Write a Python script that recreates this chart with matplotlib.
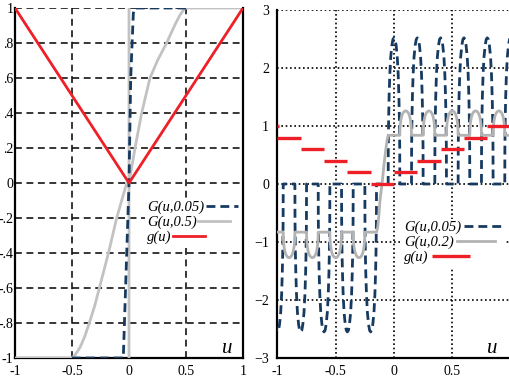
import numpy as np
import matplotlib
matplotlib.use("Agg")
import matplotlib.pyplot as plt

plt.rcParams['font.family'] = ['Liberation Serif', 'DejaVu Serif']
plt.rcParams['font.size'] = 10

# ---------------- data: left panel ----------------
g_u = [-1.0, 0.0, 1.0]
g_v = [1.0, 0.0, 1.0]

G005_u = [-0.5, -0.05, -0.04, 0.0, 0.015, 0.038, 0.05, 0.5]
G005_v = [-1.0, -1.0, -0.8, 0.0, 0.6, 0.97, 1.0, 1.0]

G05_u = [-1.0, -0.5, -0.47, -0.43, -0.39, -0.348, -0.30, -0.26, -0.18, -0.108, -0.064, -0.02,
         np.nan, 0.0, 0.0,
         np.nan, 0.0, 0.053, 0.111, 0.184, 0.25, 0.33, 0.40, 0.447, 0.49, 1.0]
G05_v = [-1.0, -1.0, -0.98, -0.94, -0.88, -0.8, -0.7, -0.6, -0.4, -0.2, -0.1, 0.0,
         np.nan, -1.0, 1.0,
         np.nan, 0.0, 0.2, 0.4, 0.6, 0.7, 0.8, 0.9, 0.96, 1.0, 1.0]

left_yticks = [1, 0.8, 0.6, 0.4, 0.2, 0, -0.2, -0.4, -0.6, -0.8, -1]
left_ylabels = ['1', '.8', '.6', '.4', '.2', '0', '-.2', '-.4', '-.6', '-.8', '-1']
left_xticks = [-1, -0.5, 0, 0.5, 1]
left_xlabels = ['-1', '-0.5', '0', '0.5', '1']

# ---------------- data: right panel ----------------
# quantized g(u): horizontal pieces
step_start = [-1.0, -1.0, -0.8, -0.6, -0.4, -0.2, 0.0, 0.2, 0.4, 0.6, 0.8]
step_end = [-0.99, -0.8, -0.6, -0.4, -0.2, 0.0, 0.2, 0.4, 0.6, 0.8, 1.0]
step_level = [1.0, 0.8, 0.6, 0.4, 0.2, 0.0, 0.2, 0.4, 0.6, 0.8, 1.0]

# arch profile (offset from arch centre, fraction of height)
arch_d = [-0.05, -0.049, -0.046, -0.042, -0.036, -0.028, -0.018, -0.009, 0.0,
          0.009, 0.018, 0.028, 0.036, 0.042, 0.046, 0.049, 0.05]
arch_f = [0.0, 0.25, 0.45, 0.6, 0.75, 0.87, 0.95, 0.99, 1.0,
          0.99, 0.95, 0.87, 0.75, 0.6, 0.45, 0.25, 0.0]

# G(u,0.05): dips / arches
G1_centres = [-1.0, -0.8, -0.6, -0.4, -0.2, 0.0, 0.2, 0.4, 0.6, 0.8, 1.0]
G1_heights = [-2.55, -2.55, -2.55, -2.55, -2.55, 2.52, 2.52, 2.52, 2.52, 2.52, 2.52]

# G(u,0.2): plateau levels with dips / bumps
G2_centres = [-0.9, -0.7, -0.5, -0.3, 0.1, 0.3, 0.5, 0.7, 0.9]
G2_base = [-0.83, -0.83, -0.83, -0.83, 0.84, 0.84, 0.84, 0.84, 0.84]
G2_heights = [-0.44, -0.44, -0.44, -0.44, 0.42, 0.42, 0.42, 0.42, 0.42]
G2_rise_u = [-0.15, -0.14, -0.13, -0.12, -0.10, -0.085, -0.07, -0.06, -0.05]
G2_rise_v = [-0.83, -0.75, -0.55, -0.28, 0.05, 0.35, 0.6, 0.75, 0.84]
G2_ends_u = [-1.0, 1.0]
G2_ends_v = [-0.83, 0.84]

right_yticks = [3, 2, 1, 0, -1, -2, -3]
right_xticks = [-1, -0.5, 0, 0.5]
right_xlabels = ['-1', '-0.5', '0', '0.5']

NAVY = '#173a61'
GRAY_L = '#c2c2c2'
GRAY_R = '#b3b3b3'
RED = '#ee1f26'

fig = plt.figure(figsize=(5.10, 3.81), dpi=100)


def left_align_legend(leg):
    # text first, handle right after the text, rows left aligned
    for col in leg._legend_handle_box.get_children():
        col.align = 'left'


# ================= left panel =================
axL = fig.add_axes([15 / 510, 23 / 381, 228 / 510, 350 / 381])
axL.set_xlim(-1, 1)
axL.set_ylim(-1, 1)
axL.plot(G05_u, G05_v, color=GRAY_L, lw=2.0, zorder=3, label='G(u,0.5)')
axL.plot(G005_u, G005_v, color=NAVY, lw=2.0, ls=(0, (3.2, 1.8)), zorder=4, label='G(u,0.05)')
axL.plot(g_u, g_v, color=RED, lw=2.0, zorder=5, label='g(u)')
axL.set_xticks(left_xticks)
axL.set_xticklabels(left_xlabels)
axL.set_yticks(left_yticks)
axL.set_yticklabels(left_ylabels)
axL.tick_params(length=0, labelsize=10)
axL.tick_params(axis='y', pad=1.0)
axL.tick_params(axis='x', pad=5)
axL.grid(True, color='black', lw=1.1, ls=(0, (4.5, 3)), zorder=0)
axL.set_axisbelow(True)
axL.spines['top'].set_visible(False)
for s in ['left', 'bottom', 'right']:
    axL.spines[s].set_linewidth(1.6)
axL.text(0.93, 0.014, 'u', transform=axL.transAxes, fontsize=15, style='italic',
         ha='center', va='baseline')
hL = axL.get_legend_handles_labels()
order = [1, 0, 2]
legL = axL.legend([hL[0][i] for i in order], [hL[1][i] for i in order],
                  loc='upper left', bbox_to_anchor=(0.57, 0.455), markerfirst=False,
                  frameon=True, facecolor='white', edgecolor='none', framealpha=1,
                  fancybox=False, borderpad=0.15, handlelength=2.2, handletextpad=0.1,
                  labelspacing=0.1, borderaxespad=0,
                  prop={'family': 'Liberation Serif', 'style': 'italic', 'size': 10.5})
left_align_legend(legL)
legL.set_zorder(6)

# ================= right panel =================
axR = fig.add_axes([277.4 / 510, 23 / 381, 233.2 / 510, 348 / 381])
axR.set_xlim(-1, 1)
axR.set_ylim(-3, 3)

G1_u, G1_v = [], []
for c, h in zip(G1_centres, G1_heights):
    G1_u += [c + d for d in arch_d]
    G1_v += [h * f for f in arch_f]

G2_u, G2_v = [G2_ends_u[0]], [G2_ends_v[0]]
for c, b, h in zip(G2_centres, G2_base, G2_heights):
    if c > 0 and G2_u[-1] < 0:
        G2_u += G2_rise_u
        G2_v += G2_rise_v
    G2_u += [c + d for d in arch_d]
    G2_v += [b + h * f for f in arch_f]
G2_u.append(G2_ends_u[1])
G2_v.append(G2_ends_v[1])

axR.plot(G1_u, G1_v, color=NAVY, lw=2.0, ls=(0, (3.2, 1.8)), zorder=3, label='G(u,0.05)')
axR.plot(G2_u, G2_v, color=GRAY_R, lw=2.0, zorder=4, label='G(u,0.2)')
axR.hlines(step_level, step_start, step_end, color=RED, lw=2.4, zorder=5, label='g(u)')
axR.set_xticks(right_xticks)
axR.set_xticklabels(right_xlabels)
axR.set_yticks(right_yticks)
axR.tick_params(length=0, labelsize=10)
axR.tick_params(axis='y', pad=6)
axR.tick_params(axis='x', pad=5)
axR.grid(True, color='black', lw=1.2, ls=(0, (1, 1.6)), zorder=0)
axR.set_axisbelow(True)
axR.spines['top'].set_visible(False)
axR.spines['right'].set_visible(False)
for s in ['left', 'bottom']:
    axR.spines[s].set_linewidth(1.6)
axR.text(0.92, 0.014, 'u', transform=axR.transAxes, fontsize=15, style='italic',
         ha='center', va='baseline')
legR = axR.legend(loc='upper left', bbox_to_anchor=(0.535, 0.40), markerfirst=False,
                  frameon=True, facecolor='white', edgecolor='none', framealpha=1,
                  fancybox=False, borderpad=0.15, handlelength=2.6, handletextpad=0.2,
                  labelspacing=0.1, borderaxespad=0,
                  prop={'family': 'Liberation Serif', 'style': 'italic', 'size': 10.5})
left_align_legend(legR)
legR.set_zorder(6)

fig.savefig('out.png', dpi=100)
